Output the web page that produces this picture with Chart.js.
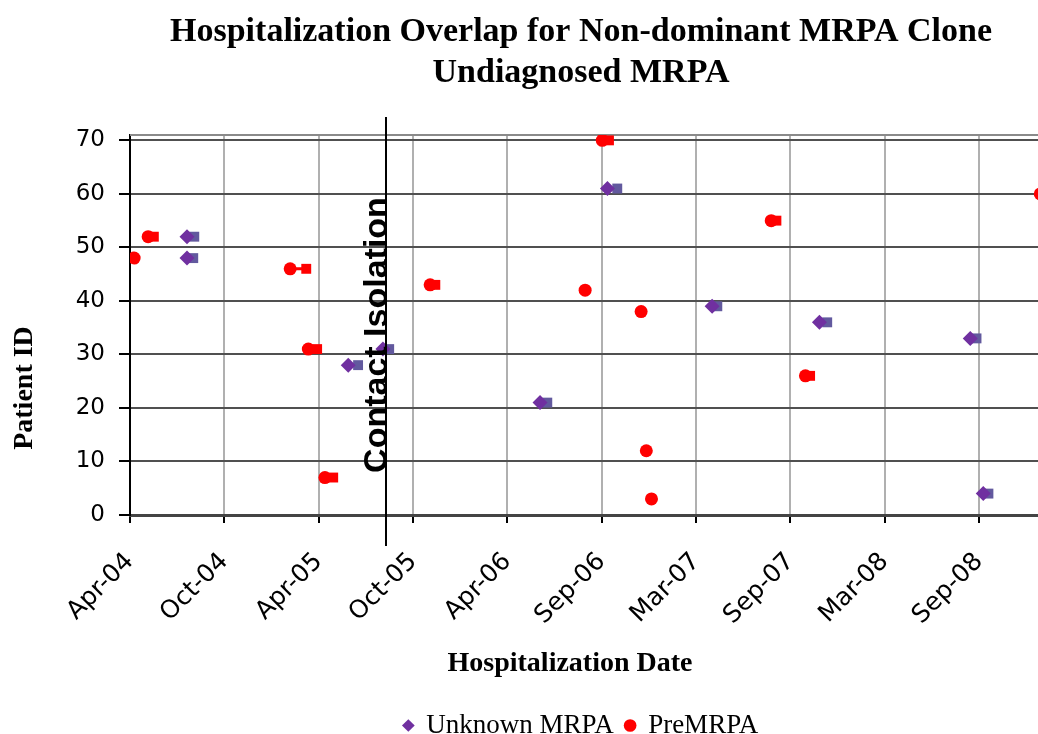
<!DOCTYPE html>
<html>
<head>
<meta charset="utf-8">
<script src="https://cdn.jsdelivr.net/npm/chart.js@4.4.1/dist/chart.umd.min.js"></script>
<style>
html, body { margin: 0; padding: 0; background: #fff; overflow: hidden; }
#wrap { width: 1038px; height: 734px; overflow: hidden; }
canvas { display: block; }
</style>
</head>
<body>
<div id="wrap"><canvas id="overlapChart" width="1162" height="734"></canvas></div>
<script>
// Hospitalization overlap - admission/discharge dates per patient
const tickLabels = ['Apr-04', 'Oct-04', 'Apr-05', 'Oct-05', 'Apr-06', 'Sep-06', 'Mar-07', 'Sep-07', 'Mar-08', 'Sep-08'];
const yTicks = [0, 10, 20, 30, 40, 50, 60, 70];
const axisStart = '2004-04-03';
const axisEnd = '2009-02-05';
const tickStepDays = 182;
const isolationDate = '2005-08-10';

const unknownIds = [52, 48, 28, 31, 21, 61, 39, 36, 33, 4];
const unknownIn = ['2004-07-22', '2004-07-22', '2005-05-29', '2005-08-04', '2006-06-03', '2006-10-11', '2007-05-01', '2007-11-24', '2008-09-10', '2008-10-05'];
const unknownOut = ['2004-08-05', '2004-08-03', '2005-06-17', '2005-08-16', '2006-06-17', '2006-10-30', '2007-05-11', '2007-12-09', '2008-09-22', '2008-10-15'];

const preIds = [48, 52, 46, 31, 7, 43, 42, 70, 38, 12, 3, 55, 26, 60];
const preIn = ['2004-04-11', '2004-05-08', '2005-02-06', '2005-03-13', '2005-04-14', '2005-11-03', '2006-08-29', '2006-10-01', '2006-12-15', '2006-12-25', '2007-01-04', '2007-08-23', '2007-10-28', '2009-01-23'];
const preOut = [null, '2004-05-19', '2005-03-09', '2005-03-30', '2005-04-30', '2005-11-13', null, '2006-10-14', null, null, null, '2007-09-02', '2007-11-06', null];

const purple = '#7030a0';
const slate = '#62599e';
const red = '#ff0000';

// dates -> day numbers for a linear x scale
const day = s => Date.parse(s) / 86400000;

function admissions(ids, dates) {
    return ids.map((id, i) => ({ x: day(dates[i]), y: id }));
}

// start -> end segment, then a gap
function stays(ids, ins, outs) {
    const pts = [];
    ids.forEach((id, i) => {
        if (!outs[i]) return;
        pts.push({ x: day(ins[i]), y: id, end: false });
        pts.push({ x: day(outs[i]), y: id, end: true });
        pts.push({ x: day(outs[i]), y: null });
    });
    return pts;
}

const endRadius = c => (c.raw && c.raw.end ? 7 : 0);

const overlay = {
    id: 'overlay',
    beforeDatasetsDraw(chart) {
        const { ctx, chartArea: a } = chart;
        ctx.save();
        ctx.strokeStyle = '#8a8a8a';
        ctx.lineWidth = 2;
        ctx.beginPath();
        ctx.moveTo(a.left, a.top);
        ctx.lineTo(a.right, a.top);
        ctx.lineTo(a.right, a.bottom);
        ctx.stroke();
        ctx.restore();
    },
    afterDatasetsDraw(chart) {
        const { ctx, chartArea: a, scales: { x } } = chart;
        const px = Math.round(x.getPixelForValue(day(isolationDate)));
        ctx.save();
        ctx.strokeStyle = '#000';
        ctx.lineWidth = 2;
        ctx.beginPath();
        ctx.moveTo(px, a.top - 18);
        ctx.lineTo(px, a.bottom + 31);
        ctx.stroke();
        ctx.translate(px + 1, (a.top + a.bottom) / 2 + 10);
        ctx.rotate(-Math.PI / 2);
        ctx.fillStyle = '#000';
        ctx.font = 'bold 34px "Liberation Sans", Arial, sans-serif';
        ctx.textAlign = 'center';
        ctx.textBaseline = 'alphabetic';
        ctx.fillText('Contact Isolation', 0, 0);
        ctx.restore();
    },
    afterDraw(chart) {
        const { ctx, chartArea: a } = chart;
        ctx.save();
        ctx.fillStyle = '#000';
        ctx.font = 'bold 28px "Liberation Serif", "Times New Roman", serif';
        ctx.textAlign = 'center';
        ctx.textBaseline = 'middle';
        ctx.fillText('Hospitalization Date', a.left + 440, a.bottom + 149);
        ctx.translate(25, a.bottom - 127);
        ctx.rotate(-Math.PI / 2);
        ctx.fillText('Patient ID', 0, 0);
        ctx.restore();
    }
};

const ctx = document.getElementById('overlapChart').getContext('2d');
const overlapChart = new Chart(ctx, {
    type: 'scatter',
    data: {
        datasets: [{
            label: 'Unknown MRPA',
            data: admissions(unknownIds, unknownIn),
            pointStyle: 'rectRot',
            pointRadius: 7.5,
            backgroundColor: purple,
            borderColor: purple,
            borderWidth: 0
        }, {
            label: 'PreMRPA',
            data: admissions(preIds, preIn),
            pointStyle: 'circle',
            pointRadius: 6.5,
            backgroundColor: red,
            borderColor: red,
            borderWidth: 0
        }, {
            label: 'Unknown stay',
            data: stays(unknownIds, unknownIn, unknownOut),
            showLine: true,
            spanGaps: false,
            borderColor: purple,
            borderWidth: 3,
            pointStyle: 'rect',
            pointRadius: endRadius,
            pointBackgroundColor: slate,
            pointBorderWidth: 0
        }, {
            label: 'Pre stay',
            data: stays(preIds, preIn, preOut),
            showLine: true,
            spanGaps: false,
            borderColor: red,
            borderWidth: 3,
            pointStyle: 'rect',
            pointRadius: endRadius,
            pointBackgroundColor: red,
            pointBorderWidth: 0
        }]
    },
    options: {
        responsive: false,
        animation: false,
        events: [],
        layout: { padding: { left: 0, right: 0, top: 0, bottom: -15 } },
        scales: {
            x: {
                type: 'linear',
                min: day(axisStart),
                max: day(axisEnd),
                afterBuildTicks: scale => {
                    scale.ticks = tickLabels.map((t, i) => ({ value: day(axisStart) + i * tickStepDays }));
                },
                afterFit: scale => { scale.height = 185; },
                ticks: {
                    autoSkip: false,
                    minRotation: 45,
                    maxRotation: 45,
                    padding: 24,
                    color: '#000',
                    font: { family: '"DejaVu Sans", sans-serif', size: 25 },
                    callback: (v, i) => tickLabels[i]
                },
                grid: {
                    color: '#b0b0b0',
                    lineWidth: 2,
                    tickColor: '#000',
                    tickLength: 8
                },
                border: { color: '#444', width: 3 }
            },
            y: {
                min: 0,
                max: 71,
                afterBuildTicks: scale => {
                    scale.ticks = yTicks.map(v => ({ value: v }));
                },
                afterFit: scale => { scale.width = 130; },
                ticks: {
                    padding: 14,
                    color: '#000',
                    font: { family: '"DejaVu Sans", sans-serif', size: 23 }
                },
                grid: {
                    color: '#505050',
                    lineWidth: 2,
                    tickColor: '#000',
                    tickLength: 11
                },
                border: { color: '#000', width: 2 }
            },
            // empty right-hand axis that only reserves the space the plot leaves on the right
            spacer: {
                position: 'right',
                display: true,
                ticks: { display: false },
                grid: { display: false, drawTicks: false },
                border: { display: false },
                afterFit: scale => { scale.width = 115; }
            }
        },
        plugins: {
            title: {
                display: true,
                text: ['Hospitalization Overlap for Non-dominant MRPA Clone', 'Undiagnosed MRPA'],
                color: '#000',
                font: { family: '"Liberation Serif", "Times New Roman", serif', size: 34, weight: 'bold', lineHeight: 1.206 },
                padding: { top: 12, bottom: 41 }
            },
            legend: {
                position: 'bottom',
                labels: {
                    filter: item => item.datasetIndex < 2,
                    usePointStyle: true,
                    boxWidth: 9,
                    boxHeight: 9,
                    padding: 12,
                    color: '#000',
                    font: { family: '"Liberation Serif", "Times New Roman", serif', size: 27, lineHeight: 1.0 }
                }
            },
            tooltip: { enabled: false }
        }
    },
    plugins: [overlay]
});
</script>
</body>
</html>
